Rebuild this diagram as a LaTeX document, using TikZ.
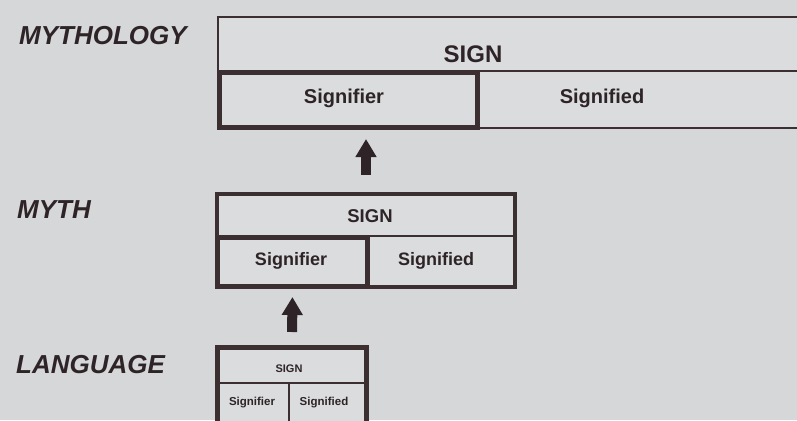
\documentclass[tikz,border=0pt]{standalone}
\usepackage{fontspec}
\setsansfont{Liberation Sans}
\usetikzlibrary{arrows.meta}

\definecolor{paper}{HTML}{D5D7D9}
\definecolor{cellfill}{HTML}{DADCDD}
\definecolor{ink}{HTML}{2E2427}
\definecolor{rule}{HTML}{3B2F31}

\tikzset{
  cellbox/.style={draw=rule, fill=cellfill, inner sep=0pt, anchor=north west},
  thinline/.style={line width=2pt},
  midline/.style={line width=4pt},
  heavyline/.style={line width=5pt},
  levellabel/.style={anchor=base west, inner sep=0pt, text=ink,
    font=\sffamily\bfseries\itshape\fontsize{26}{30}\selectfont},
  celltext/.style={anchor=base, inner sep=0pt, text=ink, font=\sffamily\bfseries},
  bigarrow/.style={draw=ink, line width=10pt,
    -{Triangle[width=20pt,length=18pt]}},
}

\begin{document}
\begin{tikzpicture}[x=1pt, y=-1pt]
  \useasboundingbox (0,0) rectangle (797,420);
  \fill[paper] (0,0) rectangle (797,420);
  \clip (0,0) rectangle (797,420);

  % --- level labels ---
  \node[levellabel] (lblmythology) at (19,45) {MYTHOLOGY};
  \node[levellabel] (lblmyth) at (17,218) {MYTH};
  \node[levellabel] (lbllanguage) at (16,373) {LANGUAGE};

  % --- mythology: the widest sign, running off to the right ---
  \node[cellbox, thinline, minimum width=620pt, minimum height=111pt] (topbox) at (217,16) {};
  \coordinate (topdivL) at (217,71);
  \coordinate (topdivR) at (840,71);
  \draw[rule, thinline] (topdivL) -- (topdivR);
  \node[cellbox, heavyline, minimum width=258pt, minimum height=55pt] (topsig) at (217,70) {};
  \node[celltext, font=\sffamily\bfseries\fontsize{24}{28}\selectfont] (topsign) at (473,63) {SIGN};
  \node[celltext, font=\sffamily\bfseries\fontsize{20}{24}\selectfont] (topsignifier) at (344,103) {Signifier};
  \node[celltext, font=\sffamily\bfseries\fontsize{20}{24}\selectfont] (topsignified) at (602,103) {Signified};

  % --- myth ---
  \node[cellbox, midline, minimum width=298pt, minimum height=93pt] (mythbox) at (215,192) {};
  \coordinate (mythdivL) at (215,236);
  \coordinate (mythdivR) at (513,236);
  \draw[rule, thinline] (mythdivL) -- (mythdivR);
  \node[cellbox, heavyline, minimum width=150pt, minimum height=49pt] (mythsig) at (215,235) {};
  \node[celltext, font=\sffamily\bfseries\fontsize{18.5}{22}\selectfont] (mythsign) at (370,222) {SIGN};
  \node[celltext, font=\sffamily\bfseries\fontsize{18}{22}\selectfont] (mythsignifier) at (291,265) {Signifier};
  \node[celltext, font=\sffamily\bfseries\fontsize{18}{22}\selectfont] (mythsignified) at (436,265) {Signified};

  % --- language ---
  \node[cellbox, heavyline, minimum width=149pt, minimum height=80pt] (langbox) at (215,345) {};
  \coordinate (langdivL) at (215,383);
  \coordinate (langdivR) at (364,383);
  \coordinate (langmidT) at (289,383);
  \coordinate (langmidB) at (289,425);
  \draw[rule, thinline] (langdivL) -- (langdivR);
  \draw[rule, thinline] (langmidT) -- (langmidB);
  \node[celltext, font=\sffamily\bfseries\fontsize{11}{13}\selectfont] (langsign) at (289,372) {SIGN};
  \node[celltext, font=\sffamily\bfseries\fontsize{11.5}{13}\selectfont] (langsignifier) at (252,405) {Signifier};
  \node[celltext, font=\sffamily\bfseries\fontsize{11.5}{13}\selectfont] (langsignified) at (324,405) {Signified};

  % --- upward arrows between levels ---
  \draw[bigarrow, shorten <=13pt, shorten >=8pt] (langbox.north) -- (mythsig.south);
  \draw[bigarrow, shorten <=17pt, shorten >=9pt] (mythbox.north) -- (mythbox.north |- topsig.south);
\end{tikzpicture}
\end{document}
